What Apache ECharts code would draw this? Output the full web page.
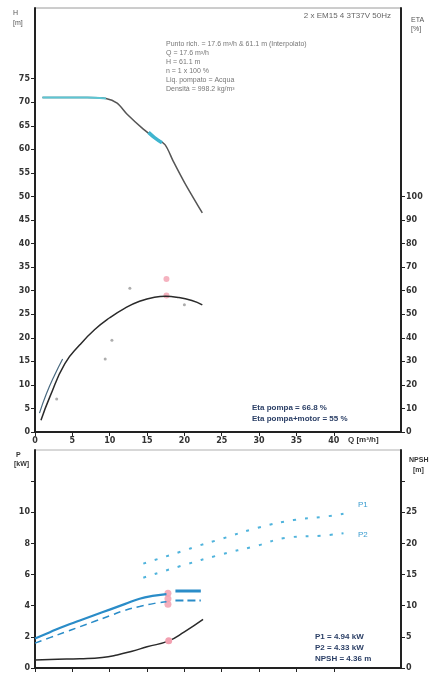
<!DOCTYPE html>
<html>
<head>
<meta charset="utf-8">
<script src="https://cdn.jsdelivr.net/npm/echarts@6/dist/echarts.min.js"></script>
<style>
    html, body { margin: 0; padding: 0; background: #fff; }
    #main { width: 437px; height: 674px; }
</style>
</head>
<body>
<div id="main"></div>
<script>
// ---- upper chart: head H [m] and efficiency [%] vs Q [m3/h]
var qHead = [1, 3, 5, 7, 9.5, 11, 12.3, 14.5, 16, 17.4, 18.5, 20, 22.4];
var head = [71, 71, 71, 71, 70.8, 69.8, 67.5, 64.3, 62.5, 61, 57.5, 53, 46.5];
var qHeadCyan = [1, 3, 5, 7, 9.5];
var headCyan = [71, 71, 71, 71, 70.8];
var qHeadBand = [15.2, 16, 17];
var headBand = [63.6, 62.5, 61.4];

var qEta = [0.8, 2, 4, 6, 8, 10, 12, 14, 16, 17.5, 19, 21, 22.4];
var eta = [5, 15, 29, 37, 43.5, 48.5, 52.5, 55.5, 57.2, 57.6, 57.2, 55.8, 54];
var qEtaStart = [0.6, 1.5, 2.6, 3.7];
var etaStart = [8, 16, 24, 31];
var qEtaDots = [2.9, 9.4, 10.3, 12.7, 20];
var etaDots = [14, 31, 39, 61, 54];
var qEtaPink = [17.6, 17.6];
var etaPink = [58, 65];

// ---- lower chart: power P [kW] and NPSH [m] vs Q
var qP = [0, 2, 4, 6, 8, 10, 12, 14, 16, 17.6];
var p1 = [1.9, 2.3, 2.7, 3.05, 3.4, 3.75, 4.1, 4.45, 4.65, 4.75];
var p2 = [1.6, 1.95, 2.3, 2.65, 3.0, 3.35, 3.7, 3.95, 4.15, 4.25];
var qPFlat = [18.8, 22.2];
var p1Flat = [4.94, 4.94];
var p2Flat = [4.33, 4.33];
var qP1Ext = [14.5, 19.7, 21.9, 25, 29.8, 34.6, 38.5, 41.3];
var p1Ext = [6.7, 7.5, 7.85, 8.3, 9.0, 9.5, 9.7, 9.9];
var qP2Ext = [14.5, 19.5, 25, 29.3, 34.2, 38.3, 41.3];
var p2Ext = [5.8, 6.55, 7.3, 7.8, 8.4, 8.5, 8.65];
var qPPink = [17.8, 17.8, 17.8];
var pPink = [4.8, 4.45, 4.1];

var qNpsh = [0, 3, 6, 9, 11, 13, 15, 17.9, 20, 22.5];
var npsh = [1.3, 1.4, 1.5, 1.7, 2.1, 2.7, 3.4, 4.36, 5.8, 7.8];

// tick labels
var qTicks = [0, 5, 10, 15, 20, 25, 30, 35, 40];
var hTicks = [0, 5, 10, 15, 20, 25, 30, 35, 40, 45, 50, 55, 60, 65, 70, 75];
var etaTicks = [0, 10, 20, 30, 40, 50, 60, 70, 80, 90, 100];
var pTicks = [0, 2, 4, 6, 8, 10];
var pTickMarks = [0, 2, 4, 6, 8, 10, 12];
var npshTicks = [0, 5, 10, 15, 20, 25];
var npshTickMarks = [0, 5, 10, 15, 20, 25, 30];

function pairs(xs, ys) {
    var out = [];
    xs.forEach(function (x, i) { out.push([x, ys[i]]); });
    return out;
}

function valAxis(idx, pos, max, labels, marks, show) {
    return {
        type: 'value', gridIndex: idx, position: pos,
        min: 0, max: max,
        axisLine: { show: true, lineStyle: { color: '#222', width: 2 } },
        axisTick: { show: true, length: 4, customValues: marks || labels, lineStyle: { color: '#222' } },
        axisLabel: {
            show: show !== false, customValues: labels,
            fontSize: 8, fontWeight: 'bold', color: '#333', margin: 5,
            fontFamily: 'DejaVu Sans'
        },
        splitLine: { show: false }
    };
}

var dark = '#2a2a2a';
var blue = '#2a8cc8';
var cyan = '#5cc6d4';
var pink = '#f2a0b0';
var txt = '#2b3f66';

var chart = echarts.init(document.getElementById('main'));
var option = {
    animation: false,
    backgroundColor: '#fff',
    grid: [
        { left: 35, right: 36, top: 8, height: 424, show: true, borderColor: '#9a9a9a', borderWidth: 1 },
        { left: 35, right: 36, top: 450, height: 218, show: true, borderColor: '#b0b0b0', borderWidth: 1 }
    ],
    xAxis: [
        valAxis(0, 'bottom', 49, qTicks),
        valAxis(1, 'bottom', 49, qTicks, qTicks, false)
    ],
    yAxis: [
        valAxis(0, 'left', 90, hTicks),
        valAxis(0, 'right', 180, etaTicks),
        valAxis(1, 'left', 14, pTicks, pTickMarks),
        valAxis(1, 'right', 35, npshTicks, npshTickMarks)
    ],
    series: [
        { type: 'line', xAxisIndex: 0, yAxisIndex: 0, data: pairs(qHead, head), symbol: 'none', smooth: 0.3,
          lineStyle: { color: '#555', width: 1.5 } },
        { type: 'line', xAxisIndex: 0, yAxisIndex: 0, data: pairs(qHeadCyan, headCyan), symbol: 'none', smooth: 0.3,
          lineStyle: { color: cyan, width: 2 } },
        { type: 'line', xAxisIndex: 0, yAxisIndex: 0, data: pairs(qHeadBand, headBand), symbol: 'none', smooth: true,
          lineStyle: { color: '#3fb5cf', width: 3.5 } },
        { type: 'line', xAxisIndex: 0, yAxisIndex: 1, data: pairs(qEta, eta), symbol: 'none', smooth: true,
          lineStyle: { color: dark, width: 1.5 } },
        { type: 'line', xAxisIndex: 0, yAxisIndex: 1, data: pairs(qEtaStart, etaStart), symbol: 'none', smooth: true,
          lineStyle: { color: '#4a6a80', width: 1.2 } },
        { type: 'scatter', xAxisIndex: 0, yAxisIndex: 1, data: pairs(qEtaDots, etaDots), symbolSize: 3,
          itemStyle: { color: '#999' } },
        { type: 'scatter', xAxisIndex: 0, yAxisIndex: 1, data: pairs(qEtaPink, etaPink), symbolSize: 6,
          itemStyle: { color: pink, opacity: 0.8 } },

        { type: 'line', xAxisIndex: 1, yAxisIndex: 2, data: pairs(qP, p1), symbol: 'none', smooth: true,
          lineStyle: { color: blue, width: 2.2 } },
        { type: 'line', xAxisIndex: 1, yAxisIndex: 2, data: pairs(qP, p2), symbol: 'none', smooth: true,
          lineStyle: { color: blue, width: 1.5, type: [7, 5] } },
        { type: 'line', xAxisIndex: 1, yAxisIndex: 2, data: pairs(qPFlat, p1Flat), symbol: 'none',
          lineStyle: { color: blue, width: 3 } },
        { type: 'line', xAxisIndex: 1, yAxisIndex: 2, data: pairs(qPFlat, p2Flat), symbol: 'none',
          lineStyle: { color: blue, width: 2, type: [8, 4] } },
        { type: 'line', xAxisIndex: 1, yAxisIndex: 2, data: pairs(qP1Ext, p1Ext), symbol: 'none', smooth: true,
          lineStyle: { color: '#4fb3dc', width: 2, type: [3, 9] } },
        { type: 'line', xAxisIndex: 1, yAxisIndex: 2, data: pairs(qP2Ext, p2Ext), symbol: 'none', smooth: true,
          lineStyle: { color: '#4fb3dc', width: 2, type: [3, 9] } },
        { type: 'scatter', xAxisIndex: 1, yAxisIndex: 2, data: pairs(qPPink, pPink), symbolSize: 7,
          itemStyle: { color: pink, opacity: 0.85 } },
        { type: 'line', xAxisIndex: 1, yAxisIndex: 3, data: pairs(qNpsh, npsh), symbol: 'none', smooth: true,
          lineStyle: { color: dark, width: 1.5 },
          markPoint: { symbol: 'circle', symbolSize: 7, data: [{ coord: [17.9, 4.36] }],
                       itemStyle: { color: pink }, label: { show: false } } }
    ],
    graphic: [
        // axis names
        { type: 'text', left: 13, top: 8, style: { text: 'H\n[m]', fontSize: 7, fill: '#555', lineHeight: 10 } },
        { type: 'text', left: 411, top: 16, style: { text: 'ETA\n[%]', fontSize: 7, fill: '#555', lineHeight: 9 } },
        { type: 'text', left: 348, top: 436, style: { text: 'Q [m³/h]', fontSize: 8, fontWeight: 'bold', fill: '#333' } },
        { type: 'text', left: 14, top: 451, style: { text: ' P\n[kW]', fontSize: 7, fontWeight: 'bold', fill: '#333', lineHeight: 9 } },
        { type: 'text', left: 409, top: 455, style: { text: 'NPSH\n  [m]', fontSize: 7, fontWeight: 'bold', fill: '#333', lineHeight: 10 } },
        // header box
        { type: 'text', right: 46, top: 12, style: { text: '2 x EM15 4 3T37V 50Hz', fontSize: 8, fill: '#666' } },
        { type: 'text', left: 166, top: 40, style: {
            text: 'Punto rich. = 17.6 m³/h & 61.1 m (Interpolato)\nQ = 17.6 m³/h\nH = 61.1 m\nn = 1 x 100 %\nLiq. pompato = Acqua\nDensità = 998.2 kg/m³',
            fontSize: 7, fill: '#777', lineHeight: 9 } },
        { type: 'text', left: 252, top: 402, style: {
            text: 'Eta pompa = 66.8 %\nEta pompa+motor = 55 %',
            fontSize: 8, fontWeight: 'bold', fill: txt, lineHeight: 11 } },
        // lower chart labels
        { type: 'text', left: 358, top: 501, style: { text: 'P1', fontSize: 8, fill: '#3a9ccf' } },
        { type: 'text', left: 358, top: 531, style: { text: 'P2', fontSize: 8, fill: '#3a9ccf' } },
        { type: 'text', left: 315, top: 631, style: {
            text: 'P1 = 4.94 kW\nP2 = 4.33 kW\nNPSH = 4.36 m',
            fontSize: 8, fontWeight: 'bold', fill: txt, lineHeight: 11 } }
    ]
};
chart.setOption(option);
</script>
</body>
</html>
